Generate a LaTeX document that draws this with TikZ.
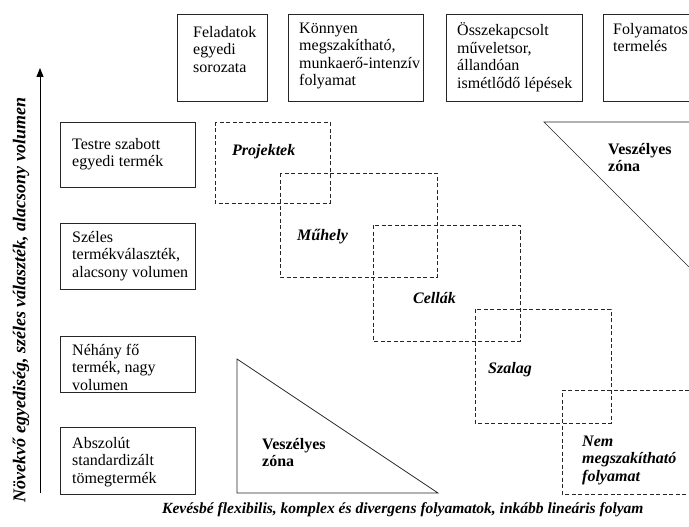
\documentclass[tikz,border=0pt]{standalone}
\usepackage{fontspec}
\setmainfont{Liberation Serif}
\usetikzlibrary{arrows.meta}
\begin{document}
\begin{tikzpicture}[x=1pt,y=-1pt,
  box/.style={draw=black!85, line width=0.7pt},
  dbox/.style={draw=black!85, line width=0.7pt, dash pattern=on 4pt off 2.5pt},
  txt/.style={font=\fontsize{16}{17.5}\selectfont, align=left, inner sep=0pt, anchor=north west, execute at begin node=\strut},
  zonetxt/.style={txt, font=\fontsize{16}{17.5}\selectfont\bfseries},
  nemtxt/.style={txt, font=\fontsize{16}{17.5}\selectfont\bfseries\itshape},
  lbl/.style={font=\fontsize{16}{17.5}\selectfont\bfseries\itshape, inner sep=0pt, anchor=base west},
  axlbl/.style={font=\fontsize{15.5}{17}\selectfont\bfseries\itshape, inner sep=0pt},
  aylbl/.style={font=\fontsize{18}{20}\selectfont\bfseries\itshape, inner sep=0pt}
]
\useasboundingbox (0,0) rectangle (689,527);

% top boxes
\draw[box] (177,14) rectangle (267,101);
\draw[box] (288,14) rectangle (423,101);
\draw[box] (446,14) rectangle (582,101);
\draw[box] (689,14) -- (603,14) -- (603,101) -- (689,101);
\node[txt] (t1) at (193,25.75) {Feladatok\\egyedi\\sorozata};
\node[txt] (t2) at (299,22.75) {Könnyen\\megszakítható,\\munkaerő-intenzív\\folyamat};
\node[txt] (t3) at (457,22.75) {Összekapcsolt\\műveletsor,\\állandóan\\ismétlődő lépések};
\node[txt] (t4) at (613,22.75) {Folyamatos\\termelés};

% left boxes
\draw[box] (60,122) rectangle (195,187);
\draw[box] (60,223) rectangle (195,289);
\draw[box] (60,336) rectangle (195,392);
\draw[box] (60,427) rectangle (195,494);
\node[txt] (l1) at (72,137.75) {Testre szabott\\egyedi termék};
\node[txt] (l2) at (72,230.75) {Széles\\termékválaszték,\\alacsony volumen};
\node[txt] (l3) at (72,343.75) {Néhány fő\\termék, nagy\\volumen};
\node[txt] (l4) at (72,436.75) {Abszolút\\standardizált\\tömegtermék};

% dashed regions
\draw[dbox] (215,122) rectangle (330,203);
\draw[dbox] (280,173) rectangle (437,277);
\draw[dbox] (373,225) rectangle (520,341);
\draw[dbox] (475,309) rectangle (611,423);
\draw[dbox] (689,390) -- (562,390) -- (562,494) -- (689,494);
\node[lbl] (p1) at (232,155) {Projektek};
\node[lbl] (p2) at (297,240) {Műhely};
\node[lbl] (p3) at (413,303) {Cellák};
\node[lbl] (p4) at (488,373) {Szalag};
\node[nemtxt] (p5) at (582,435.75) {Nem\\megszakítható\\folyamat};

% danger zones
\draw[box] (237,359) -- (237,493) -- (438,493) -- cycle;
\draw[box] (689,122) -- (544,122) -- (689,267);
\node[zonetxt] (z1) at (262,437.75) {Veszélyes\\zóna};
\node[zonetxt] (z2) at (608,142.75) {Veszélyes\\zóna};

% axis
\coordinate (a0) at (40,493);
\coordinate (a1) at (40,68);
\draw[line width=0.8pt, -{Triangle[length=9pt,width=7pt]}] (a0) -- (a1);
\node[aylbl, rotate=90] (ylab) at (21,300) {Növekvő egyediség, széles választék, alacsony volumen};
\node[axlbl, anchor=base west] (xlab) at (162,513) {Kevésbé flexibilis, komplex és divergens folyamatok, inkább lineáris folyam};
\end{tikzpicture}
\end{document}
